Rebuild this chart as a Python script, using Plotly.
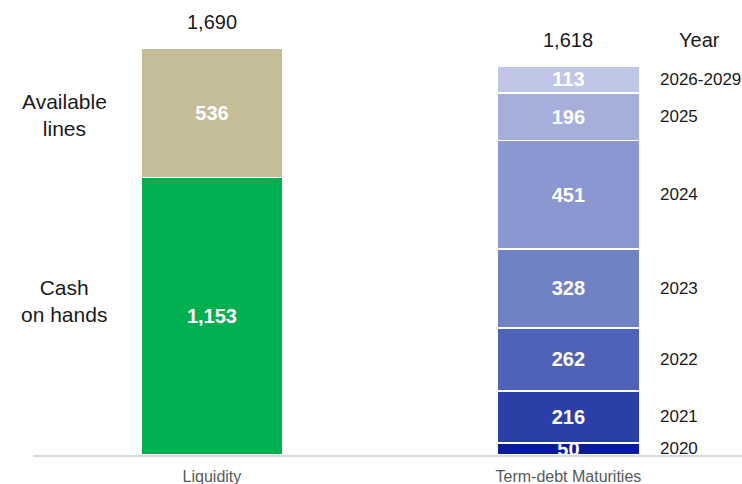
import plotly.graph_objects as go

categories = ["Liquidity", "Term-debt Maturities"]

liq_labels = ["Cash<br>on hands", "Available<br>lines"]
liq_values = [1153, 536]
liq_colors = ["#00B050", "#C4BD97"]

years = ["2020", "2021", "2022", "2023", "2024", "2025", "2026-2029"]
debt_values = [50, 216, 262, 328, 451, 196, 113]
debt_colors = ["#0A1A9C", "#2B3FA8", "#5062B8", "#7181C5", "#8A97D1", "#A6AEDC", "#C0C6E7"]

totals = [1690, 1618]

FONT = "Arial, Liberation Sans, sans-serif"
BAR_W = 0.398

fig = go.Figure()

for lab, v, c in zip(liq_labels, liq_values, liq_colors):
    fig.add_trace(go.Bar(
        x=[categories[0]], y=[v], width=BAR_W,
        marker=dict(color=c, line=dict(color="white", width=1.5)),
        text=[f"{v:,}"], textposition="inside", insidetextanchor="middle",
        textangle=0, constraintext="none",
        textfont=dict(color="white", size=20, family=FONT, weight="bold"),
        showlegend=False, hoverinfo="skip"))

for yr, v, c in zip(years, debt_values, debt_colors):
    fig.add_trace(go.Bar(
        x=[categories[1]], y=[v], width=BAR_W,
        marker=dict(color=c, line=dict(color="white", width=1.5)),
        text=[f"{v:,}"], textposition="inside", insidetextanchor="middle",
        textangle=0, constraintext="none",
        textfont=dict(color="white", size=20, family=FONT, weight="bold"),
        showlegend=False, hoverinfo="skip", cliponaxis=False))

annotations = []
sums = [sum(liq_values), sum(debt_values)]
for cat, s, t in zip(categories, sums, totals):
    annotations.append(dict(x=cat, y=s, xref="x", yref="y", text=f"{t:,}",
                            showarrow=False, yanchor="middle", yshift=26,
                            font=dict(size=20, color="#1a1a1a", family=FONT)))

cum = 0
for lab, v, shift in zip(liq_labels, liq_values, [15, -2]):
    annotations.append(dict(x=-0.415, y=cum + v / 2, xref="x", yref="y", text=lab,
                            showarrow=False, xanchor="center", yanchor="middle",
                            yshift=shift,
                            font=dict(size=21, color="#1a1a1a", family=FONT)))
    cum += v

cum = 0
for yr, v in zip(years, debt_values):
    annotations.append(dict(x=1.251, y=cum + v / 2, xref="x", yref="y", text=yr,
                            showarrow=False, xanchor="left", yanchor="middle",
                            font=dict(size=17, color="#1a1a1a", family=FONT)))
    cum += v

annotations.append(dict(x=1.368, y=sums[1], xref="x", yref="y", text="Year",
                        showarrow=False, xanchor="center", yanchor="middle", yshift=26,
                        font=dict(size=20, color="#1a1a1a", family=FONT)))

fig.update_layout(
    barmode="stack",
    width=742, height=484,
    margin=dict(l=33, r=0, t=0, b=29),
    paper_bgcolor="white", plot_bgcolor="white",
    annotations=annotations,
    xaxis=dict(type="category", range=[-0.502, 1.487], showline=True,
               linecolor="#D9D9D9", linewidth=1.5, showgrid=False, zeroline=False,
               tickfont=dict(size=16, color="#595959", family=FONT),
               ticks="", ticklabelstandoff=6, automargin=False),
    yaxis=dict(range=[0, 1889.5], visible=False, showgrid=False, zeroline=False),
)

fig.write_html("out.html", config={"displayModeBar": False},
               post_script="document.body.style.margin='0';document.body.style.padding='0';document.body.style.overflow='hidden';")
